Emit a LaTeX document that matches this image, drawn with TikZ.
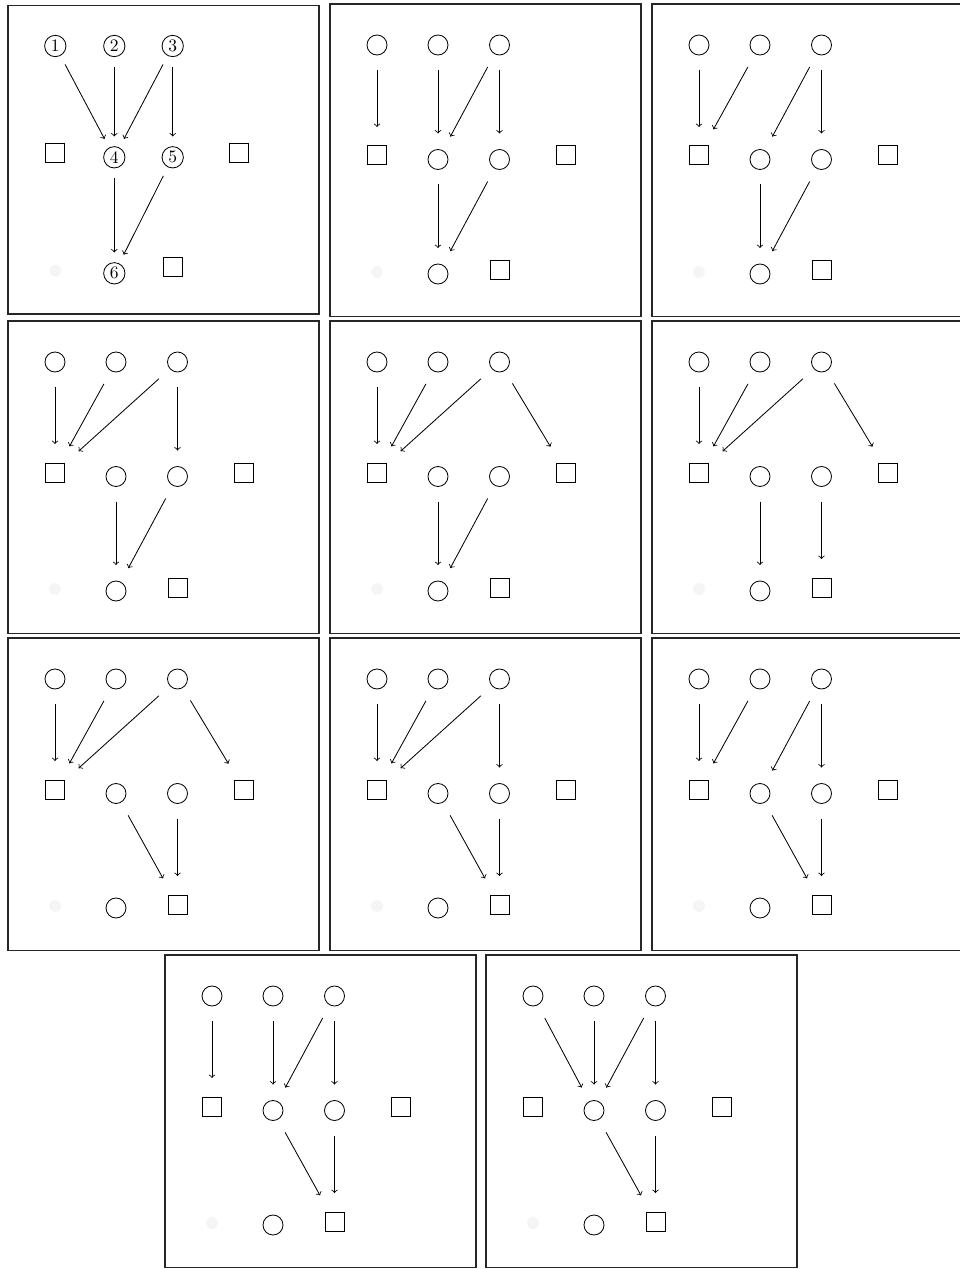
\documentclass[tikz,border=0pt]{standalone}
\begin{document}
\begin{tikzpicture}[x=0.6pt,y=-0.6pt,
  panel/.style={draw=black!85,line width=0.7pt},
  cnode/.style={circle,draw,fill=white,minimum size=12pt,inner sep=0pt,outer sep=0pt,line width=0.5pt},
  cnum/.style={circle,draw,minimum size=12.8pt,inner sep=0pt,outer sep=0pt,line width=0.5pt,font=\fontsize{10.5}{11}\selectfont},
  sq/.style={rectangle,draw,fill=white,minimum size=11.4pt,inner sep=0pt,outer sep=0pt,line width=0.6pt},
  faint/.style={circle,fill=black!4,draw=none,minimum size=7.2pt,inner sep=0pt},
  arr/.style={->,line width=0.5pt,shorten <=9pt},
  ac/.style={arr,shorten >=9.6pt},
  as/.style={arr,shorten >=11.4pt},
  an/.style={->,line width=0.5pt,shorten <=6.1pt,shorten >=6.1pt}]
\useasboundingbox (0,0) rectangle (959,1269);
\newcommand\graphpanel[4]{%
  \begin{scope}[shift={(#2,#3)}]
    \draw[panel] (0,0) rectangle (311,312.5);
    \node[cnode] (#1T1) at (47,41) {};
    \node[cnode] (#1T2) at (108,41) {};
    \node[cnode] (#1T3) at (169.5,41) {};
    \node[sq] (#1L) at (47,151.5) {};
    \node[cnode] (#1M1) at (108,155.5) {};
    \node[cnode] (#1M2) at (169.5,155.5) {};
    \node[sq] (#1R) at (236,151.5) {};
    \node[faint] (#1F) at (47,268) {};
    \node[cnode] (#1B1) at (108,270) {};
    \node[sq] (#1B2) at (169.5,266.5) {};
    \foreach \src/\dst/\sty in {#4} \draw[\sty] (#1\src) -- (#1\dst);
  \end{scope}}
% panel 1 (numbered)
\begin{scope}[shift={(8,5.7)}]
  \draw[panel] (0,0) rectangle (311,308.3);
  \node[cnum] (aT1) at (47.3,40.3) {1};
  \node[cnum] (aT2) at (106.3,40.3) {2};
  \node[cnum] (aT3) at (164.7,40.3) {3};
  \node[sq] (aL) at (47.3,147) {};
  \node[cnum] (aM1) at (106.3,151.6) {4};
  \node[cnum] (aM2) at (164.7,151.6) {5};
  \node[sq] (aR) at (231.3,147) {};
  \node[faint] (aF) at (47.3,265) {};
  \node[cnum] (aB1) at (106.3,267.6) {6};
  \node[sq] (aB2) at (164.7,261.6) {};
  \foreach \src/\dst in {T1/M1,T2/M1,T3/M1,T3/M2,M1/B1,M2/B1} \draw[an] (a\src) -- (a\dst);
\end{scope}
\graphpanel{b}{330}{4}{T1/L/as,T2/M1/ac,T3/M1/ac,T3/M2/ac,M1/B1/ac,M2/B1/ac}
\graphpanel{c}{652}{4}{T1/L/as,T2/L/as,T3/M1/ac,T3/M2/ac,M1/B1/ac,M2/B1/ac}
\graphpanel{d}{8}{321}{T1/L/as,T2/L/as,T3/L/as,T3/M2/ac,M1/B1/ac,M2/B1/ac}
\graphpanel{e}{330}{321}{T1/L/as,T2/L/as,T3/L/as,T3/R/as,M1/B1/ac,M2/B1/ac}
\graphpanel{f}{652}{321}{T1/L/as,T2/L/as,T3/L/as,T3/R/as,M1/B1/ac,M2/B2/as}
\graphpanel{g}{8}{638}{T1/L/as,T2/L/as,T3/L/as,T3/R/as,M1/B2/as,M2/B2/as}
\graphpanel{h}{330}{638}{T1/L/as,T2/L/as,T3/L/as,T3/M2/ac,M1/B2/as,M2/B2/as}
\graphpanel{i}{652}{638}{T1/L/as,T2/L/as,T3/M1/ac,T3/M2/ac,M1/B2/as,M2/B2/as}
\graphpanel{j}{165}{955}{T1/L/as,T2/M1/ac,T3/M1/ac,T3/M2/ac,M1/B2/as,M2/B2/as}
\graphpanel{k}{486}{955}{T1/M1/ac,T2/M1/ac,T3/M1/ac,T3/M2/ac,M1/B2/as,M2/B2/as}
\end{tikzpicture}
\end{document}
